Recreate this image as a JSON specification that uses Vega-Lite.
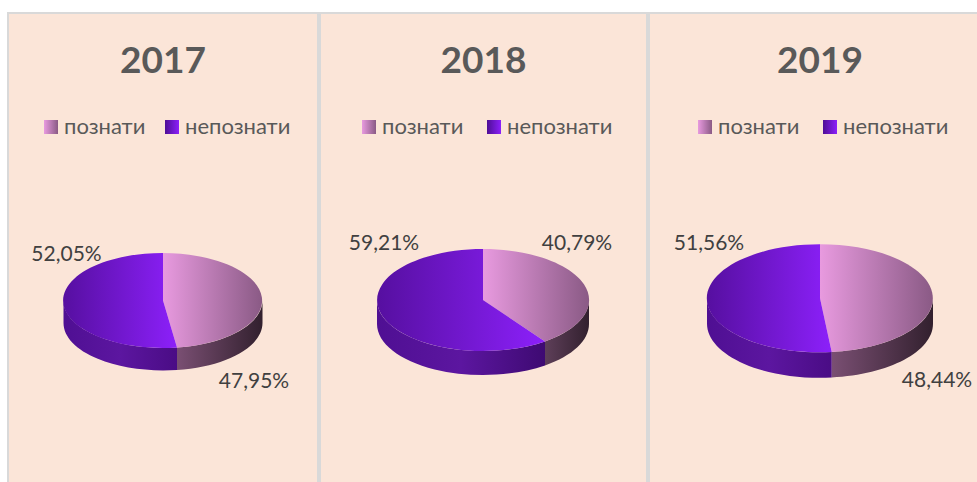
{
"$schema":"https://vega.github.io/schema/vega-lite/v6.json",
"padding":{"left":7,"top":12,"right":0,"bottom":0},
"background":"white",
"spacing":0,
"datasets":{"shares":[
{"year":2017,"category":"познати","share":0.4795},
{"year":2017,"category":"непознати","share":0.5205},
{"year":2018,"category":"познати","share":0.4079},
{"year":2018,"category":"непознати","share":0.5921},
{"year":2019,"category":"познати","share":0.4844},
{"year":2019,"category":"непознати","share":0.5156}
]},
"config":{
"locale":{"number":{"decimal":",","thousands":".","grouping":[3],"currency":["","€"]}},
"title":{"font":"Lato","fontSize":37,"fontWeight":"bold","color":"#595959","anchor":"middle","baseline":"middle","offset":-68,"frame":"group"},
"legend":{"title":null,"orient":"none","direction":"horizontal","symbolType":"square","symbolSize":196,"symbolStrokeWidth":0,"symbolOpacity":0,"labelFont":"Lato","labelFontSize":22,"labelColor":"#595959","labelOffset":2,"columnPadding":15,"padding":0,"labelLimit":200},
"text":{"font":"Lato","fontSize":21,"color":"#404040"}
},
"resolve":{"scale":{"color":"independent"},"legend":{"color":"independent"}},
"hconcat":[
{"width":310,"height":471,"view":{"fill":"#FBE5D8","stroke":"#D9D9D9","strokeWidth":2},"title":"2017","transform":[{"filter":"datum.year==2017"}],"data":{"name":"shares"},
"layer":[
{"transform":[{"filter":"datum.category=='познати'"}],"mark":{"type":"point","filled":true,"opacity":1,"size":4,"strokeWidth":0,"shape":"M99.5,52 A99.5,47.5 0 0 1 14,99 L14,121.5 A99.5,47.5 0 0 0 99.5,74.5 Z","fill":{"gradient":"linear","x1":0,"y1":0,"x2":1,"y2":0,"stops":[{"offset":0,"color":"#7A4F73"},{"offset":1,"color":"#32202E"}]}},"encoding":{"detail":{"field":"category"}}},
{"transform":[{"filter":"datum.category=='непознати'"}],"mark":{"type":"point","filled":true,"opacity":1,"size":4,"strokeWidth":0,"shape":"M14,99 A99.5,47.5 0 0 1 -99.5,52 L-99.5,74.5 A99.5,47.5 0 0 0 14,121.5 Z","fill":{"gradient":"linear","x1":0,"y1":0,"x2":1,"y2":0,"stops":[{"offset":0,"color":"#4F0F93"},{"offset":0.5,"color":"#5C16A0"},{"offset":1,"color":"#4A0C85"}]}},"encoding":{"detail":{"field":"category"}}},
{"transform":[{"filter":"datum.category=='познати'"}],"mark":{"type":"point","filled":true,"opacity":1,"size":4,"strokeWidth":0,"shape":"M0,52 L0,4.5 A99.5,47.5 0 0 1 14,99 Z","fill":{"gradient":"linear","x1":0,"y1":0,"x2":1,"y2":0,"stops":[{"offset":0,"color":"#E89ADF"},{"offset":1,"color":"#8A5A85"}]}},"encoding":{"detail":{"field":"category"}}},
{"transform":[{"filter":"datum.category=='непознати'"}],"mark":{"type":"point","filled":true,"opacity":1,"size":4,"strokeWidth":0,"shape":"M0,52 L14,99 A99.5,47.5 0 1 1 0,4.5 Z","fill":{"gradient":"linear","x1":0,"y1":0,"x2":1,"y2":0,"stops":[{"offset":0,"color":"#560FA0"},{"offset":1,"color":"#8C20FA"}]}},"encoding":{"detail":{"field":"category"}}},
{"transform":[{"filter":"datum.category=='познати'"}],"mark":{"type":"point","filled":true,"opacity":1,"size":4,"strokeWidth":0,"shape":"M-119,-128.5 H-105 V-114.5 H-119 Z","fill":{"gradient":"linear","x1":0,"y1":0,"x2":1,"y2":0,"stops":[{"offset":0,"color":"#E89ADF"},{"offset":1,"color":"#8A5A85"}]}},"encoding":{"detail":{"field":"category"}}},
{"transform":[{"filter":"datum.category=='непознати'"}],"mark":{"type":"point","filled":true,"opacity":1,"size":4,"strokeWidth":0,"shape":"M2,-128.5 H16 V-114.5 H2 Z","fill":{"gradient":"linear","x1":0,"y1":0,"x2":1,"y2":0,"stops":[{"offset":0,"color":"#4E0E96"},{"offset":1,"color":"#8C20FA"}]}},"encoding":{"detail":{"field":"category"}}},
{"mark":{"type":"point","filled":true,"opacity":1,"size":0,"strokeWidth":0},"encoding":{
"color":{"field":"category","type":"nominal","scale":{"domain":["познати","непознати"],"range":["#C07CB8","#6A14C8"]},"legend":{"legendX":32,"legendY":103}}}},
{"transform":[{"filter":"datum.category=='познати'"}],"mark":{"type":"text","dx":91,"dy":133.5},"encoding":{"text":{"field":"share","type":"quantitative","format":".2%"}}},
{"transform":[{"filter":"datum.category=='непознати'"}],"mark":{"type":"text","dx":-96.5,"dy":6.5},"encoding":{"text":{"field":"share","type":"quantitative","format":".2%"}}}
]},
{"width":327,"height":471,"view":{"fill":"#FBE5D8","stroke":"#D9D9D9","strokeWidth":2},"title":"2018","transform":[{"filter":"datum.year==2018"}],"data":{"name":"shares"},
"layer":[
{"transform":[{"filter":"datum.category=='познати'"}],"mark":{"type":"point","filled":true,"opacity":1,"size":4,"strokeWidth":0,"shape":"M105.5,51.5 A106,51 0 0 1 61.5,92.9 L61.5,116.9 A106,51 0 0 0 105.5,75.5 Z","fill":{"gradient":"linear","x1":0,"y1":0,"x2":1,"y2":0,"stops":[{"offset":0,"color":"#5E3F59"},{"offset":1,"color":"#32202E"}]}},"encoding":{"detail":{"field":"category"}}},
{"transform":[{"filter":"datum.category=='непознати'"}],"mark":{"type":"point","filled":true,"opacity":1,"size":4,"strokeWidth":0,"shape":"M61.5,92.9 A106,51 0 0 1 -106.5,51.5 L-106.5,75.5 A106,51 0 0 0 61.5,116.9 Z","fill":{"gradient":"linear","x1":0,"y1":0,"x2":1,"y2":0,"stops":[{"offset":0,"color":"#4F0F93"},{"offset":0.5,"color":"#5C16A0"},{"offset":1,"color":"#3E0A72"}]}},"encoding":{"detail":{"field":"category"}}},
{"transform":[{"filter":"datum.category=='познати'"}],"mark":{"type":"point","filled":true,"opacity":1,"size":4,"strokeWidth":0,"shape":"M-0.5,51.5 L-0.5,0.5 A106,51 0 0 1 61.5,92.9 Z","fill":{"gradient":"linear","x1":0,"y1":0,"x2":1,"y2":0,"stops":[{"offset":0,"color":"#E89ADF"},{"offset":1,"color":"#8A5A85"}]}},"encoding":{"detail":{"field":"category"}}},
{"transform":[{"filter":"datum.category=='непознати'"}],"mark":{"type":"point","filled":true,"opacity":1,"size":4,"strokeWidth":0,"shape":"M-0.5,51.5 L61.5,92.9 A106,51 0 1 1 -0.5,0.5 Z","fill":{"gradient":"linear","x1":0,"y1":0,"x2":1,"y2":0,"stops":[{"offset":0,"color":"#560FA0"},{"offset":1,"color":"#8C20FA"}]}},"encoding":{"detail":{"field":"category"}}},
{"transform":[{"filter":"datum.category=='познати'"}],"mark":{"type":"point","filled":true,"opacity":1,"size":4,"strokeWidth":0,"shape":"M-121.5,-128.5 H-107.5 V-114.5 H-121.5 Z","fill":{"gradient":"linear","x1":0,"y1":0,"x2":1,"y2":0,"stops":[{"offset":0,"color":"#E89ADF"},{"offset":1,"color":"#8A5A85"}]}},"encoding":{"detail":{"field":"category"}}},
{"transform":[{"filter":"datum.category=='непознати'"}],"mark":{"type":"point","filled":true,"opacity":1,"size":4,"strokeWidth":0,"shape":"M3.5,-128.5 H17.5 V-114.5 H3.5 Z","fill":{"gradient":"linear","x1":0,"y1":0,"x2":1,"y2":0,"stops":[{"offset":0,"color":"#4E0E96"},{"offset":1,"color":"#8C20FA"}]}},"encoding":{"detail":{"field":"category"}}},
{"mark":{"type":"point","filled":true,"opacity":1,"size":0,"strokeWidth":0},"encoding":{
"color":{"field":"category","type":"nominal","scale":{"domain":["познати","непознати"],"range":["#C07CB8","#6A14C8"]},"legend":{"legendX":38,"legendY":103,"columnPadding":19}}}},
{"transform":[{"filter":"datum.category=='познати'"}],"mark":{"type":"text","dx":93.5,"dy":-4.5},"encoding":{"text":{"field":"share","type":"quantitative","format":".2%"}}},
{"transform":[{"filter":"datum.category=='непознати'"}],"mark":{"type":"text","dx":-99.5,"dy":-4.5},"encoding":{"text":{"field":"share","type":"quantitative","format":".2%"}}}
]},
{"width":330,"height":471,"view":{"fill":"#FBE5D8","stroke":"#D9D9D9","strokeWidth":2},"title":{"text":"2019","dx":6},"transform":[{"filter":"datum.year==2019"}],"data":{"name":"shares"},
"layer":[
{"transform":[{"filter":"datum.category=='познати'"}],"mark":{"type":"point","filled":true,"opacity":1,"size":4,"strokeWidth":0,"shape":"M119,49.8 A113,54 0 0 1 17.7,103.5 L17.7,129 A113,54 0 0 0 119,75.3 Z","fill":{"gradient":"linear","x1":0,"y1":0,"x2":1,"y2":0,"stops":[{"offset":0,"color":"#7A4F73"},{"offset":1,"color":"#32202E"}]}},"encoding":{"detail":{"field":"category"}}},
{"transform":[{"filter":"datum.category=='непознати'"}],"mark":{"type":"point","filled":true,"opacity":1,"size":4,"strokeWidth":0,"shape":"M17.7,103.5 A113,54 0 0 1 -107,49.8 L-107,75.3 A113,54 0 0 0 17.7,129 Z","fill":{"gradient":"linear","x1":0,"y1":0,"x2":1,"y2":0,"stops":[{"offset":0,"color":"#4F0F93"},{"offset":0.5,"color":"#5C16A0"},{"offset":1,"color":"#4A0C85"}]}},"encoding":{"detail":{"field":"category"}}},
{"transform":[{"filter":"datum.category=='познати'"}],"mark":{"type":"point","filled":true,"opacity":1,"size":4,"strokeWidth":0,"shape":"M6,49.8 L6,-4.2 A113,54 0 0 1 17.7,103.5 Z","fill":{"gradient":"linear","x1":0,"y1":0,"x2":1,"y2":0,"stops":[{"offset":0,"color":"#E89ADF"},{"offset":1,"color":"#8A5A85"}]}},"encoding":{"detail":{"field":"category"}}},
{"transform":[{"filter":"datum.category=='непознати'"}],"mark":{"type":"point","filled":true,"opacity":1,"size":4,"strokeWidth":0,"shape":"M6,49.8 L17.7,103.5 A113,54 0 1 1 6,-4.2 Z","fill":{"gradient":"linear","x1":0,"y1":0,"x2":1,"y2":0,"stops":[{"offset":0,"color":"#560FA0"},{"offset":1,"color":"#8C20FA"}]}},"encoding":{"detail":{"field":"category"}}},
{"transform":[{"filter":"datum.category=='познати'"}],"mark":{"type":"point","filled":true,"opacity":1,"size":4,"strokeWidth":0,"shape":"M-116,-128.5 H-102 V-114.5 H-116 Z","fill":{"gradient":"linear","x1":0,"y1":0,"x2":1,"y2":0,"stops":[{"offset":0,"color":"#E89ADF"},{"offset":1,"color":"#8A5A85"}]}},"encoding":{"detail":{"field":"category"}}},
{"transform":[{"filter":"datum.category=='непознати'"}],"mark":{"type":"point","filled":true,"opacity":1,"size":4,"strokeWidth":0,"shape":"M9,-128.5 H23 V-114.5 H9 Z","fill":{"gradient":"linear","x1":0,"y1":0,"x2":1,"y2":0,"stops":[{"offset":0,"color":"#4E0E96"},{"offset":1,"color":"#8C20FA"}]}},"encoding":{"detail":{"field":"category"}}},
{"mark":{"type":"point","filled":true,"opacity":1,"size":0,"strokeWidth":0},"encoding":{
"color":{"field":"category","type":"nominal","scale":{"domain":["познати","непознати"],"range":["#C07CB8","#6A14C8"]},"legend":{"legendX":45,"legendY":103,"columnPadding":19}}}},
{"transform":[{"filter":"datum.category=='познати'"}],"mark":{"type":"text","dx":123,"dy":132.5},"encoding":{"text":{"field":"share","type":"quantitative","format":".2%"}}},
{"transform":[{"filter":"datum.category=='непознати'"}],"mark":{"type":"text","dx":-105,"dy":-4.5},"encoding":{"text":{"field":"share","type":"quantitative","format":".2%"}}}
]}
]
}
